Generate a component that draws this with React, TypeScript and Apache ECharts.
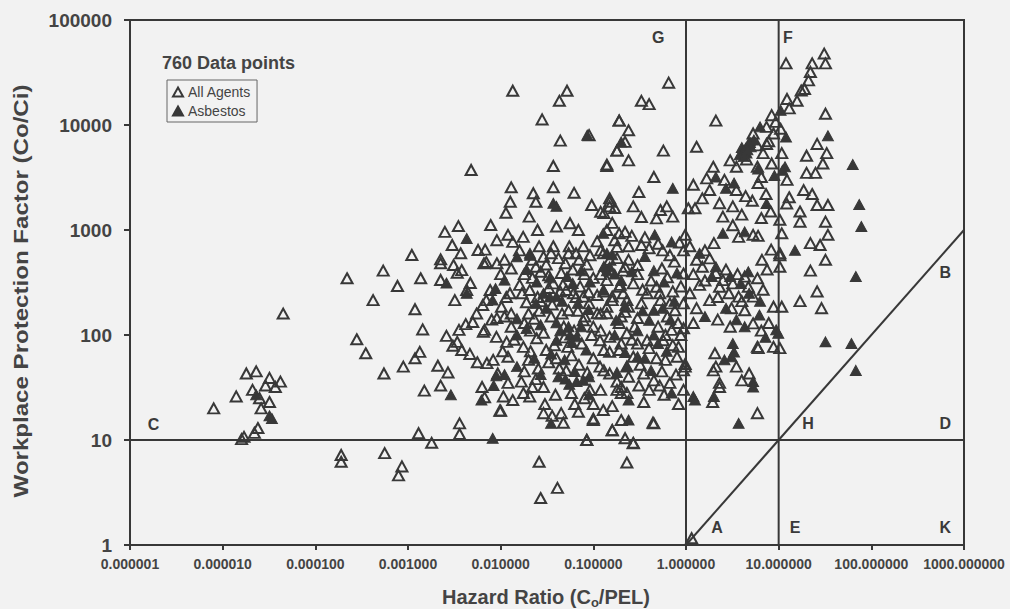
import React, { useEffect, useRef } from "react";
import * as echarts from "echarts";

// ---- data ----
const xTickLabels = ["0.000001", "0.000010", "0.000100", "0.001000", "0.010000", "0.100000", "1.000000", "10.000000", "100.000000", "1000.000000"];
const yTickLabels = ["1", "10", "100", "1000", "10000", "100000"];

const allAgents: number[][] = [
  // far-left cluster
  [1.8e-5, 43], [2.3e-5, 45], [3.2e-5, 39], [4.2e-5, 36], [1.4e-5, 26], [8e-6, 20], [2.1e-5, 30], [2.5e-5, 25], [3.2e-5, 23], [2.6e-5, 20],
  [2.4e-5, 13], [1.7e-5, 10.7], [2.2e-5, 11.7], [2.9e-5, 33], [3.7e-5, 32], [1.6e-5, 10.2], [4.5e-5, 160],
  // 0.0001 - 0.001
  [2.2e-4, 347], [4.2e-4, 215], [2.8e-4, 91], [3.5e-4, 67], [1.9e-4, 7.2], [1.9e-4, 6.2], [5.6e-4, 7.5], [8.6e-4, 5.6], [7.9e-4, 4.6],
  [5.4e-4, 410], [7.7e-4, 293], [8.9e-4, 50], [5.5e-4, 43],
  // low band
  [1.3e-3, 11.6], [1.8e-3, 9.4], [3.6e-3, 14.4], [3.6e-3, 11.4], [2.6e-2, 6.2], [2.7e-2, 2.8], [4.1e-2, 3.5], [8.5e-2, 10], [0.23, 6.1],
  [0.27, 9.4], [0.22, 10.4], [0.44, 14.6], [1e-2, 19], [2.9e-2, 18],
  // upper sparse
  [1.35e-2, 21200], [5.2e-2, 21200], [4.3e-2, 17000], [2.8e-2, 11300], [9e-2, 8000], [4.4e-2, 7100], [0.19, 11000], [0.22, 6900], [0.18, 5700],
  [0.14, 4070], [4.8e-3, 3730], [3.7e-2, 4070], [1.3e-2, 2550], [3.7e-2, 2550], [2.25e-2, 2240], [6.2e-2, 2260], [1.27e-2, 1860], [1.14e-2, 1460],
  [2.4e-2, 1860], [9.6e-2, 1730], [0.15, 1860], [0.17, 1620], [0.12, 1490], [3.5e-3, 1090], [7.8e-3, 1115], [2.03e-2, 1340], [2.5e-2, 1000],
  [4e-2, 1080], [5.6e-2, 1160], [6.9e-2, 1000], [9.1e-3, 800], [1.35e-2, 770], [1.75e-2, 860], [0.22, 960], [1.1e-3, 578], [2.25e-3, 525],
  [3.7e-3, 600], [6.8e-3, 650], [2.6e-2, 700], [3.7e-2, 700], [5.5e-2, 700], [7.8e-2, 700], [0.12, 640],
  // 0.001 - 0.01 body
  [1.37e-3, 347], [2.25e-3, 482], [3.1e-3, 464], [3.4e-3, 392], [2.25e-3, 334], [4.3e-3, 268], [1.19e-3, 176], [1.44e-3, 113], [4.2e-3, 127],
  [2.6e-3, 98], [3.55e-3, 112], [3.4e-3, 86], [3.05e-3, 79], [3.8e-3, 72], [4.65e-3, 66], [1.34e-3, 69], [1.19e-3, 60], [2.1e-3, 51], [2.7e-3, 44],
  [2.25e-3, 33], [1.5e-3, 29.5], [6.5e-3, 107], [5.6e-3, 55], [7.1e-3, 54], [6.3e-3, 32], [6.7e-3, 25.5], [9.8e-3, 19], [1.07e-2, 26], [9.3e-3, 43],
  [1.67e-2, 36], [1.76e-2, 28], [2.06e-2, 26], [2.9e-2, 32], [3e-2, 22], [3.6e-2, 17], [4.5e-2, 18], [4.75e-2, 14.6], [6.9e-2, 18.6], [0.1, 16],
  [0.128, 19.3], [0.16, 12.4], [0.2, 15.5], [0.23, 28], [0.18, 30],
  [2.5e-3, 960], [3e-3, 720], [5.7e-3, 645], [7e-3, 495], [3.8e-3, 415], [4.7e-3, 313], [7.7e-3, 268], [3.2e-3, 215], [6.4e-3, 193], [9.1e-3, 145], [5e-3, 133],
  // dense core
  [6.6e-3, 482], [9.1e-3, 482], [1.1e-2, 520], [2.4e-2, 446], [2.9e-2, 557], [3.5e-2, 600], [5e-2, 482], [5.4e-2, 600], [7e-2, 520], [9.2e-2, 575],
  [0.128, 600], [0.21, 410], [0.24, 520], [1.26e-2, 250], [2.06e-2, 268], [3.7e-2, 310], [5.1e-2, 268], [7.8e-2, 232], [0.16, 232], [0.195, 300],
  [0.23, 215], [7e-3, 215], [1.02e-2, 186], [1.9e-2, 205], [2.3e-2, 143], [5.4e-2, 172], [7.8e-2, 138], [0.11, 161], [0.14, 186], [0.22, 166],
  [6.7e-3, 112], [9e-3, 96], [1.16e-2, 86], [1.76e-2, 77], [2.45e-2, 93], [3.1e-2, 72], [5.3e-2, 77], [0.118, 89], [0.15, 69], [0.2, 83],
  [8.3e-3, 58], [1.2e-2, 62], [2e-2, 58], [2.55e-2, 48], [4e-2, 60], [5.1e-2, 46], [9.2e-2, 30], [0.118, 50], [0.15, 43], [0.18, 36],
  [1.3e-2, 430], [1.8e-2, 380], [2.2e-2, 350], [2.7e-2, 400], [3.3e-2, 370], [4.5e-2, 390], [6e-2, 420], [8e-2, 380], [0.1, 350], [1e-2, 380],
  [1.6e-2, 300], [4.7e-2, 300], [6.5e-2, 230], [0.09, 200], [0.11, 240], [2.7e-2, 210], [1.3e-2, 160], [3.5e-2, 150], [4.8e-2, 120], [6.2e-2, 110],
  [0.1, 120], [2.1e-2, 110], [1.3e-2, 120], [8e-3, 140], [5.5e-3, 160], [2e-2, 160],
  [1.2e-2, 900], [1.6e-2, 640], [2.2e-2, 520], [3.1e-2, 470], [4.2e-2, 540], [6.5e-2, 600], [8.5e-2, 470], [1.15e-2, 230], [1.7e-2, 250], [2.5e-2, 230],
  [3.3e-2, 280], [4.4e-2, 260], [6.1e-2, 250], [7.2e-2, 290], [8.9e-2, 255], [1.1e-2, 150], [1.8e-2, 130], [2.6e-2, 170], [3.6e-2, 195], [4.6e-2, 160],
  [6.8e-2, 170], [8.1e-2, 150], [1.4e-2, 90], [2.1e-2, 70], [2.9e-2, 105], [3.8e-2, 80], [4.9e-2, 95], [5.8e-2, 64], [7.5e-2, 83], [9.6e-2, 100],
  [1.05e-2, 70], [1.8e-2, 45], [2.4e-2, 38], [3.3e-2, 55], [4.3e-2, 48], [5.8e-2, 28], [7e-2, 52], [8.6e-2, 44], [0.1, 60], [1.2e-2, 35],
  [2.2e-2, 32], [3.9e-2, 27], [6.3e-2, 22], [8e-2, 25], [1.35e-2, 24],
  // 0.1 - 1 band
  [0.13, 1450], [0.16, 1170], [0.33, 1330], [0.53, 1550], [0.18, 690], [0.4, 670], [0.56, 640], [0.15, 520], [0.22, 446], [0.3, 464], [0.63, 355],
  [0.14, 333], [0.19, 288], [0.27, 310], [0.38, 250], [0.16, 215], [0.24, 186], [0.33, 200], [0.63, 150], [0.14, 161], [0.19, 130], [0.28, 120],
  [0.76, 172], [0.15, 96], [0.23, 104], [0.3, 83], [0.57, 89], [0.13, 72], [0.19, 72], [0.8, 62],
  [0.15, 1680], [0.27, 1680], [0.62, 1680], [1.06, 1610], [1.25, 1610], [0.48, 1290], [0.72, 1340], [0.14, 1000], [0.19, 930], [0.24, 700],
  [0.33, 720], [0.98, 900], [0.94, 30], [0.98, 50], [0.83, 77], [0.94, 116], [0.94, 200], [0.94, 385], [0.94, 640], [0.67, 575], [0.67, 200],
  [0.53, 215], [0.48, 288], [0.7, 112], [0.6, 58], [0.38, 89], [0.35, 43], [0.27, 62], [0.23, 50], [0.2, 32], [0.45, 37], [0.67, 35],
  [0.11, 780], [0.17, 800], [0.26, 880], [0.36, 850], [0.5, 740], [0.85, 760], [0.12, 380], [0.18, 540], [0.3, 380], [0.42, 330], [0.55, 430],
  [0.75, 500], [0.88, 290], [0.13, 260], [0.21, 250], [0.34, 270], [0.52, 250], [0.72, 260], [0.12, 160], [0.2, 150], [0.3, 145], [0.5, 120],
  [0.6, 100], [0.82, 130], [0.12, 110], [0.26, 90], [0.4, 75], [0.48, 60], [0.72, 80], [0.88, 100], [0.13, 46], [0.24, 40], [0.32, 52],
  [0.55, 45], [0.78, 42], [0.31, 33], [0.58, 27], [0.83, 22],
  // 1 - 10 band
  [3.2, 1680], [2.5, 1340], [2.0, 750], [3.2, 1110], [3.7, 860], [5.3, 900], [6.6, 520], [5.9, 347], [4.7, 288], [3.2, 310], [2.3, 288], [1.8, 215],
  [1.4, 300], [1.5, 446], [1.8, 537], [2.5, 333], [2.9, 250], [3.7, 232], [5.3, 232], [4.3, 172], [5.3, 129], [3.5, 50], [4.8, 43], [5.9, 77],
  [2.05, 67], [2.1, 50], [2.3, 35], [8.8, 186], [8.8, 77],
  [1.1, 700], [1.3, 520], [1.6, 640], [1.2, 380], [1.6, 330], [2.1, 390], [2.7, 420], [3.6, 380], [4.3, 360], [1.1, 250], [1.3, 180], [2.2, 230],
  [3.1, 180], [4.0, 210], [6.8, 270], [7.5, 420], [8.3, 650], [6.0, 880], [1.2, 130], [2.2, 140], [3.0, 120], [6.5, 110], [7.8, 130],
  [1.5, 2000], [2.3, 1800], [4.4, 2100], [5.2, 1900], [7.3, 2200], [8.2, 1500], [6.5, 1300], [4.0, 1400], [1.2, 2700], [3.0, 4600], [4.5, 4700], [7.8, 7000],
  // right of 10
  [12.2, 1790], [17, 1500], [17, 1200], [26, 1730], [34, 1730], [32, 1200], [10.8, 930], [22, 750], [28, 720], [34, 900], [32, 520], [22, 410],
  [26, 260], [17, 210], [29, 180], [10.8, 186], [10.3, 600], [10.3, 446], [10.3, 1250], [10.3, 575],
  // top right
  [0.65, 25300], [0.33, 17000], [0.4, 15800], [0.19, 11000], [0.24, 8900], [0.18, 5700], [0.57, 5700], [0.24, 4600], [0.14, 4200], [0.45, 3200],
  [0.31, 2300], [0.15, 2000], [2.1, 11000], [1.3, 6200], [12, 38600], [31, 47900], [32, 38600], [23, 38600], [22, 32000], [21, 26600], [19, 22000],
  [17.5, 21300], [15.8, 17000], [12.3, 17700], [13, 14400], [8.4, 12400], [9.3, 10700], [7.4, 9600], [10.5, 9200], [8.8, 8300], [5.3, 8300],
  [5.9, 6400], [7.4, 6600], [6.8, 5400], [8.4, 4300], [10.8, 5400], [12.3, 3000], [32, 12800], [26, 6600], [33, 5400], [20, 5100], [30, 4300],
  [25, 3500], [20, 3500], [18.6, 2400], [23, 2200], [1.97, 4000], [1.67, 3100], [2.6, 3000], [3.5, 4000], [5.9, 4000], [6.5, 3200], [6.0, 2800],
  [3.5, 2400], [1.8, 2400], [13, 2050],
  // lower middle
  [1.94, 23], [2.3, 32], [1.97, 46], [5.9, 18], [4.0, 37], [0.94, 46], [0.98, 53], [10.3, 75], [6.0, 75], [0.085, 10], [0.27, 9.3], [0.45, 14.4],
  [0.16, 12.4], [0.1, 15.5], [0.1, 22], [0.16, 21], [0.2, 28], [0.35, 23], [0.4, 30], [0.52, 33], [0.12, 30], [1.15, 1.16],
];

const asbestos: number[][] = [
  [3.2e-5, 17], [2.3e-5, 27], [3.4e-5, 16],
  [8.2e-3, 10.4],
  [8.6e-2, 8000], [4e-2, 1680], [3.7e-2, 1800], [4.3e-3, 830], [0.128, 930], [2.07e-2, 600], [0.14, 600],
  [2.6e-3, 313], [4.3e-3, 250], [2.9e-3, 27], [6.2e-3, 24], [9e-3, 41], [3.5e-2, 14.4], [8.2e-3, 215],
  [1.5e-2, 557], [2.07e-2, 575], [0.15, 446],
  [1.1e-2, 333], [8.8e-3, 277], [2.45e-2, 320], [2.9e-2, 250], [4e-2, 232], [6e-2, 310], [9.2e-2, 320], [0.128, 268], [0.14, 410],
  [1.5e-2, 143], [3.1e-2, 180], [4e-2, 131], [0.176, 138],
  [1.5e-2, 100], [4e-2, 89], [6.6e-2, 96], [8.4e-2, 72],
  [1.5e-2, 50], [6.6e-2, 36], [7.8e-2, 37], [0.23, 50],
  [4.2e-2, 40], [5e-2, 38], [5.5e-2, 34], [0.13, 450], [0.17, 380], [0.2, 330], [5.4e-2, 120], [5.6e-2, 100],
  [0.45, 410], [0.45, 172], [0.4, 138],
  [1.9e-2, 420], [3.4e-2, 350], [5.2e-2, 360], [7.4e-2, 410], [2.4e-2, 200], [3.4e-2, 230], [4.6e-2, 210], [6.8e-2, 200], [8.9e-2, 175],
  [1.9e-2, 115], [2.7e-2, 125], [4.4e-2, 110], [5.9e-2, 85], [7.4e-2, 120], [2.3e-2, 60], [3.5e-2, 66], [4.9e-2, 58], [6.3e-2, 45], [9e-2, 40],
  [2.7e-2, 42], [1.1e-2, 42], [8.4e-3, 33],
  [0.16, 580], [0.26, 400], [0.36, 560], [0.58, 320], [0.8, 390], [0.22, 190], [0.34, 170], [0.56, 180], [0.75, 210], [0.17, 100], [0.3, 110],
  [0.45, 100], [0.68, 140], [0.22, 68], [0.36, 60], [0.62, 70], [0.18, 44], [0.42, 46], [0.7, 28],
  [1.4, 600], [1.9, 360], [3.0, 360], [3.9, 310], [4.7, 400], [2.7, 180], [4.8, 250], [6.3, 210], [1.6, 150], [3.5, 140], [7.2, 95],
  [3.8, 5200], [4.2, 5000], [4.5, 5400], [4.9, 6800], [5.4, 7200], [4.0, 6100], [6.0, 3800], [9.0, 3300], [3.3, 2800],
  [7.4, 1790], [74, 1750], [78, 1080], [0.46, 900], [0.7, 770], [2.5, 930], [4.3, 960], [15, 640], [68, 360], [32, 86], [61, 83], [68, 46],
  [2.1, 446], [6.2, 155], [4.3, 120], [3.2, 83], [3.1, 62], [5.3, 36], [2.0, 26], [1.2, 26], [0.5, 83], [0.3, 62], [9.4, 112],
  [0.2, 6900], [0.72, 2500], [10.5, 13800], [6.3, 9600], [12, 7700], [4.7, 6600], [4.1, 5600], [4.4, 6000], [5.0, 6200], [4.6, 5800],
  [11.7, 4000], [11, 3700], [34, 7900], [63, 4200], [2.1, 3200], [2.7, 2500],
  [1.25, 24], [3.7, 14.4], [5.3, 32], [3.3, 69], [2.6, 58], [9.9, 104], [0.24, 15.5], [0.24, 24], [0.09, 27],
];

// region letters [x, y, letter]
const regionLetters: (number | string)[][] = [
  [1.8e-6, 14.2, "C"], [0.5, 67400, "G"], [12.6, 67400, "F"], [20.7, 14.5, "H"], [630, 14.5, "D"],
  [630, 398, "B"], [2.16, 1.48, "A"], [15, 1.48, "E"], [630, 1.48, "K"],
];

// reference lines
const lineV1 = [[1, 1], [1, 100000]];
const lineV10 = [[10, 1], [10, 100000]];
const lineH10 = [[0.000001, 10], [1000, 10]];
const lineDiag = [[1, 1], [1000, 1000]];

const INK = "#383838";
const TXT = "#444444";
const FONT = "'Liberation Sans', Arial, Helvetica, sans-serif";

export default function App() {
  const ref = useRef<HTMLDivElement>(null);
  useEffect(() => {
    if (!ref.current) return;
    const chart = echarts.init(ref.current, undefined, { renderer: "svg" });

    const ctx = document.createElement("canvas").getContext("2d")!;
    const measure = (t: string, size: number) => {
      ctx.font = `bold ${size}px ${FONT}`;
      return ctx.measureText(t).width;
    };
    const t1 = "Hazard Ratio (C";
    const t2 = "o";
    const t3 = "/PEL)";
    const w1 = measure(t1, 20), w2 = measure(t2, 13), w3 = measure(t3, 20);
    const cx = 546;
    const sx = cx - (w1 + w2 + w3) / 2;
    const yTitle = "Workplace Protection Factor (Co/Ci)";
    const yTitleW = measure(yTitle, 20);
    const yScale = yTitleW > 0 ? 413 / yTitleW : 1;

    const lineSeries = (data: number[][]) => ({
      type: "line",
      data,
      symbol: "none",
      silent: true,
      lineStyle: { color: INK, width: 2 },
      z: 1,
    });

    chart.setOption({
      animation: false,
      backgroundColor: "#f2f2f2",
      grid: { left: 130, right: 46, top: 20, bottom: 64, show: true, borderColor: INK, borderWidth: 2, backgroundColor: "transparent" },
      legend: {
        data: ["All Agents", "Asbestos"],
        orient: "vertical",
        left: 167,
        top: 80,
        borderColor: "#666",
        borderWidth: 1,
        padding: [5, 6, 4, 5],
        itemGap: 5,
        itemWidth: 10,
        itemHeight: 9,
        textStyle: { fontSize: 14, color: TXT, fontFamily: FONT },
      },
      xAxis: {
        type: "log",
        logBase: 10,
        min: 0.000001,
        max: 1000,
        splitLine: { show: false },
        axisLine: { lineStyle: { color: INK, width: 2 } },
        axisTick: { lineStyle: { color: INK, width: 2 }, length: 5 },
        axisLabel: {
          formatter: (v: number) => xTickLabels[Math.round(Math.log10(v)) + 6] ?? "",
          fontSize: 14, fontWeight: "bold", color: TXT, fontFamily: FONT, margin: 12,
        },
      },
      yAxis: {
        type: "log",
        logBase: 10,
        min: 1,
        max: 100000,
        splitLine: { show: false },
        axisLine: { lineStyle: { color: INK, width: 2 } },
        axisTick: { lineStyle: { color: INK, width: 2 }, length: 6 },
        axisLabel: {
          formatter: (v: number) => yTickLabels[Math.round(Math.log10(v))] ?? "",
          fontSize: 19, fontWeight: "bold", color: TXT, fontFamily: FONT, margin: 18,
        },
      },
      graphic: [
        {
          type: "text", x: 162, y: 63,
          style: { text: "760 Data points", fontSize: 18, fontWeight: "bold", fontFamily: FONT, fill: TXT, verticalAlign: "middle", textVerticalAlign: "middle" },
        },
        {
          type: "text", x: 21, y: 291, rotation: Math.PI / 2, scaleX: yScale,
          style: { text: yTitle, fontSize: 20, fontWeight: "bold", fontFamily: FONT, fill: TXT, align: "center", textAlign: "center", verticalAlign: "middle", textVerticalAlign: "middle" },
        },
        {
          type: "text", x: sx, y: 597,
          style: { text: t1, fontSize: 20, fontWeight: "bold", fontFamily: FONT, fill: TXT, verticalAlign: "middle", textVerticalAlign: "middle" },
        },
        {
          type: "text", x: sx + w1, y: 602,
          style: { text: t2, fontSize: 13, fontWeight: "bold", fontFamily: FONT, fill: TXT, verticalAlign: "middle", textVerticalAlign: "middle" },
        },
        {
          type: "text", x: sx + w1 + w2, y: 597,
          style: { text: t3, fontSize: 20, fontWeight: "bold", fontFamily: FONT, fill: TXT, verticalAlign: "middle", textVerticalAlign: "middle" },
        },
      ],
      series: [
        lineSeries(lineV1),
        lineSeries(lineV10),
        lineSeries(lineH10),
        lineSeries(lineDiag),
        {
          name: "All Agents",
          type: "scatter",
          data: allAgents,
          symbol: "triangle",
          symbolSize: [11, 10],
          itemStyle: { color: "rgba(0,0,0,0)", borderColor: INK, borderWidth: 2, opacity: 1 },
          z: 3,
        },
        {
          name: "Asbestos",
          type: "scatter",
          data: asbestos,
          symbol: "triangle",
          symbolSize: [11, 10],
          itemStyle: { color: INK, borderColor: INK, borderWidth: 1, opacity: 1 },
          z: 4,
        },
        {
          name: "letters",
          type: "scatter",
          data: regionLetters,
          symbolSize: 1,
          itemStyle: { color: "rgba(0,0,0,0)" },
          silent: true,
          label: {
            show: true,
            position: "inside",
            formatter: (p: any) => p.data[2],
            fontSize: 16,
            fontWeight: "bold",
            fontFamily: FONT,
            color: "#3a3a3a",
            textBorderWidth: 0,
            textBorderColor: "transparent",
            opacity: 1,
          },
          z: 5,
        },
      ],
    });

    return () => chart.dispose();
  }, []);

  return (
    <div
      ref={ref}
      style={{ position: "fixed", left: 0, top: 0, width: 1010, height: 609, background: "#f2f2f2" }}
    />
  );
}
